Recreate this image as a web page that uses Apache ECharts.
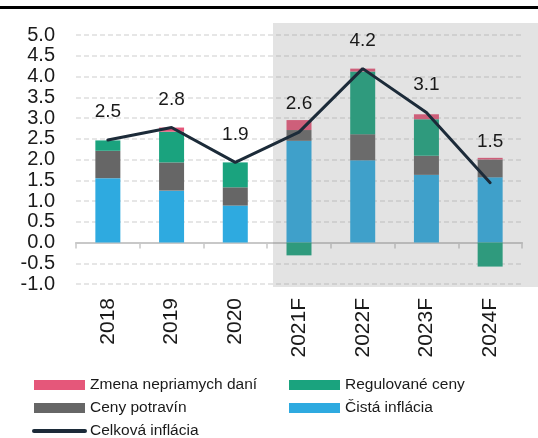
<!DOCTYPE html>
<html>
<head>
<meta charset="utf-8">
<script src="https://cdn.jsdelivr.net/npm/echarts@6/dist/echarts.min.js"></script>
<style>
  html, body { margin: 0; padding: 0; background: #fff; }
  #chart { width: 538px; height: 438px; }
</style>
</head>
<body>
<div id="chart"></div>
<script>
// roky (F = prognóza)
const years = ['2018', '2019', '2020', '2021F', '2022F', '2023F', '2024F'];

// príspevky k inflácii (p.b.)
const cistaInflacia = [1.55, 1.25, 0.89, 2.45, 1.98, 1.63, 1.57];
const cenyPotravin  = [0.66, 0.68, 0.44, 0.26, 0.63, 0.46, 0.43];
const regulovaneCeny = [0.25, 0.74, 0.60, -0.31, 1.51, 0.88, -0.58];
const zmenaDani     = [0, 0.10, 0, 0.24, 0.07, 0.12, 0.04];

// celková inflácia (čiara) a jej popisky
const celkovaInflacia = [2.47, 2.77, 1.93, 2.66, 4.19, 3.13, 1.44];
const celkovaPopisky  = ['2.5', '2.8', '1.9', '2.6', '4.2', '3.1', '1.5'];

const yTicks = { min: -1, max: 5, interval: 0.5 };

const FONT = 'Liberation Sans';
const TXT = '#1a1a1a';
const LINE = '#1c2b39';

function barSeries(name, data, color) {
    return {
        name: name,
        type: 'bar',
        stack: 'infl',
        barWidth: 25,
        data: data,
        z: 2,
        itemStyle: { color: color }
    };
}

function legendBox(left, items) {
    return {
        left: left, top: 377, height: 90, orient: 'vertical', padding: 0,
        itemWidth: 51, itemHeight: 10, itemGap: 7,
        textStyle: { fontSize: 15.5, lineHeight: 16, color: TXT, fontFamily: FONT },
        data: items
    };
}

const option = {
    animation: false,
    textStyle: { fontFamily: FONT },
    grid: { left: 76, right: 16, top: 35, bottom: 154, containLabel: false },
    legend: [
        legendBox(32, [
            { name: 'Zmena nepriamych daní', icon: 'rect' },
            { name: 'Ceny potravín', icon: 'rect' },
            {
                name: 'Celková inflácia',
                itemStyle: { opacity: 0 },
                lineStyle: { width: 4, cap: 'round', color: LINE }
            }
        ]),
        legendBox(289, [
            { name: 'Regulované ceny', icon: 'rect' },
            { name: 'Čistá inflácia', icon: 'rect' }
        ])
    ],
    graphic: [
        {   // horná čiara
            type: 'rect', z: 100,
            shape: { x: 0, y: 6, width: 538, height: 3 },
            style: { fill: '#000000' }
        },
        {   // tieňovanie prognózy
            type: 'rect', z: 3,
            shape: { x: 273, y: 23, width: 265, height: 264 },
            style: { fill: 'rgba(125,125,125,0.215)' }
        }
    ],
    xAxis: [
        {
            type: 'category',
            data: years,
            position: 'bottom',
            axisLine: { show: false, onZero: false },
            axisTick: { show: false },
            axisLabel: { rotate: 90, margin: 14, fontSize: 21, color: TXT, fontFamily: FONT }
        },
        {
            type: 'category',
            data: years,
            position: 'bottom',
            axisLine: { show: true, onZero: true, lineStyle: { color: '#c8c8c8', width: 2 } },
            axisTick: { show: true, length: 6, lineStyle: { color: '#c8c8c8', width: 1.5 } },
            axisLabel: { show: false },
            z: 1
        }
    ],
    yAxis: {
        type: 'value',
        min: yTicks.min,
        max: yTicks.max,
        interval: yTicks.interval,
        axisLine: { show: false },
        axisTick: { show: false },
        axisLabel: {
            fontSize: 20, color: TXT, margin: 21, fontFamily: FONT,
            formatter: function (v) { return v.toFixed(1); }
        },
        splitLine: { lineStyle: { color: '#dedede', width: 1.5, type: [5, 3] } }
    },
    series: [
        barSeries('Čistá inflácia', cistaInflacia, '#2eaae0'),
        barSeries('Ceny potravín', cenyPotravin, '#666666'),
        barSeries('Regulované ceny', regulovaneCeny, '#1aa37e'),
        barSeries('Zmena nepriamych daní', zmenaDani, '#e5577a'),
        {
            name: 'Celková inflácia',
            type: 'line',
            data: celkovaInflacia,
            symbol: 'none',
            z: 10,
            lineStyle: { color: LINE, width: 3, cap: 'round' },
            itemStyle: { color: LINE }
        },
        {   // popisky celkovej inflácie
            name: 'popisky',
            type: 'scatter',
            data: celkovaInflacia.map(function (v, i) {
                // posledný popisok je v originále vyššie
                return i === 6 ? { value: v, label: { offset: [0, -13] } } : v;
            }),
            symbolSize: 1,
            itemStyle: { color: 'rgba(0,0,0,0)', opacity: 1 },
            z: 11,
            silent: true,
            label: {
                show: true,
                position: 'top',
                distance: 18,
                fontSize: 19,
                color: TXT,
                opacity: 1,
                fontFamily: FONT,
                formatter: function (p) { return celkovaPopisky[p.dataIndex]; }
            }
        }
    ]
};

const chart = echarts.init(document.getElementById('chart'));
chart.setOption(option);
window.addEventListener('resize', function () {
    chart.resize();
});
</script>
</body>
</html>
